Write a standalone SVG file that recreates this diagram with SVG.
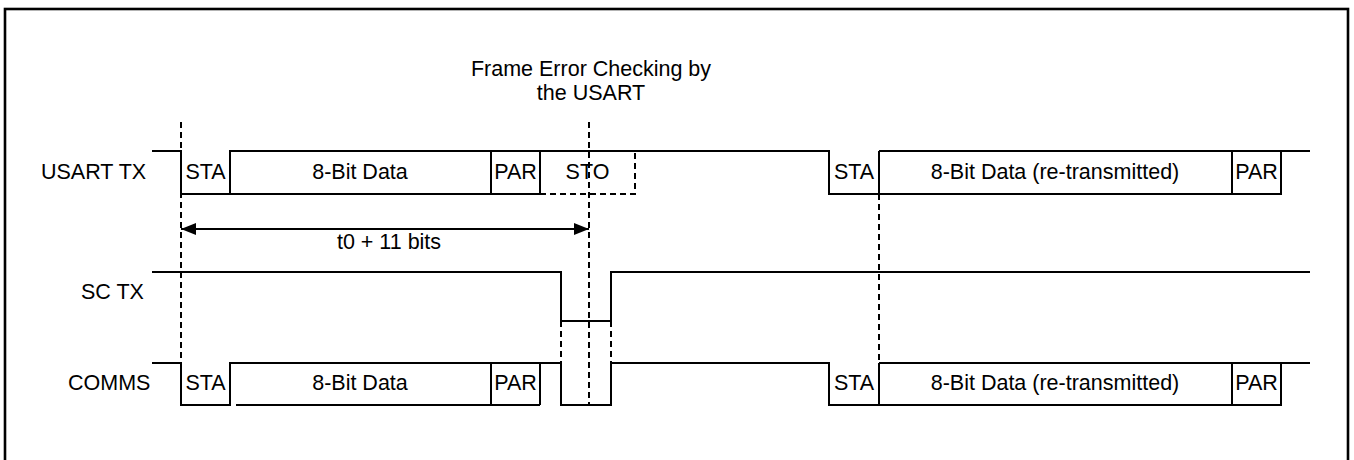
<svg xmlns="http://www.w3.org/2000/svg" width="1354" height="460" viewBox="0 0 1354 460">
<defs>
<style>
.sig{fill:none;stroke:#000;stroke-width:2;stroke-linejoin:miter}
.dash{fill:none;stroke:#000;stroke-width:2;stroke-dasharray:6,4}
.frame{fill:none;stroke:#000;stroke-width:2.6}
text{font-family:"Liberation Sans",Arial,sans-serif;font-size:21.5px;fill:#000}
.c{text-anchor:middle}
</style>
<marker id="ah" viewBox="0 0 15 12" refX="15" refY="6" markerWidth="15" markerHeight="12" markerUnits="userSpaceOnUse" orient="auto-start-reverse">
<path d="M0,0 L15,6 L0,12 Z" fill="#000"/>
</marker>
</defs>
<rect class="frame" x="5" y="9" width="1343" height="480"/>

<g id="title">
<text class="c" x="591" y="76">Frame Error Checking by</text>
<text class="c" x="591" y="100">the USART</text>
</g>

<g id="labels">
<text x="41" y="179">USART TX</text>
<text x="81" y="299">SC TX</text>
<text x="68" y="390">COMMS</text>
</g>

<g id="usart-tx">
<path class="sig" d="M152,151 H181 V194 H540"/>
<path class="sig" d="M230,194 V151 H829 V194 H1281 V151"/>
<path class="sig" d="M491,151 V194 M540,151 V194"/>
<path class="dash" d="M540,194 H635 V151"/>
<path class="sig" d="M879,151 V194 M1232,151 V194 M879,151 H1310"/>
<text class="c" x="205.5" y="179">STA</text>
<text class="c" x="360" y="179">8-Bit Data</text>
<text class="c" x="515.5" y="179">PAR</text>
<text class="c" x="587.5" y="179">STO</text>
<text class="c" x="854" y="179">STA</text>
<text class="c" x="1055" y="179">8-Bit Data (re-transmitted)</text>
<text class="c" x="1256.5" y="179">PAR</text>
</g>

<g id="sc-tx">
<path class="sig" d="M152,272 H561 V321 H611 V272 H1310"/>
</g>

<g id="comms">
<path class="sig" d="M152,363 H181 V405 H230 V363 H561 V405 H611 V363 H829 V405 H1281 V363"/>
<path class="sig" d="M236,405 H540 M491,363 V405 M540,363 V405"/>
<path class="sig" d="M879,363 V405 M1232,363 V405 M879,363 H1310"/>
<text class="c" x="205.5" y="390">STA</text>
<text class="c" x="360" y="390">8-Bit Data</text>
<text class="c" x="515.5" y="390">PAR</text>
<text class="c" x="854" y="390">STA</text>
<text class="c" x="1055" y="390">8-Bit Data (re-transmitted)</text>
<text class="c" x="1256.5" y="390">PAR</text>
</g>

<g id="connectors">
<path class="dash" d="M181,122 V363"/>
<path class="dash" d="M589,122 V405"/>
<path class="dash" d="M561,321 V363 M611,321 V363"/>
<path class="dash" d="M879,194 V363"/>
<line x1="181" y1="229" x2="589" y2="229" stroke="#000" stroke-width="2" marker-start="url(#ah)" marker-end="url(#ah)"/>
<text class="c" x="389" y="249">t0 + 11 bits</text>
</g>
</svg>
